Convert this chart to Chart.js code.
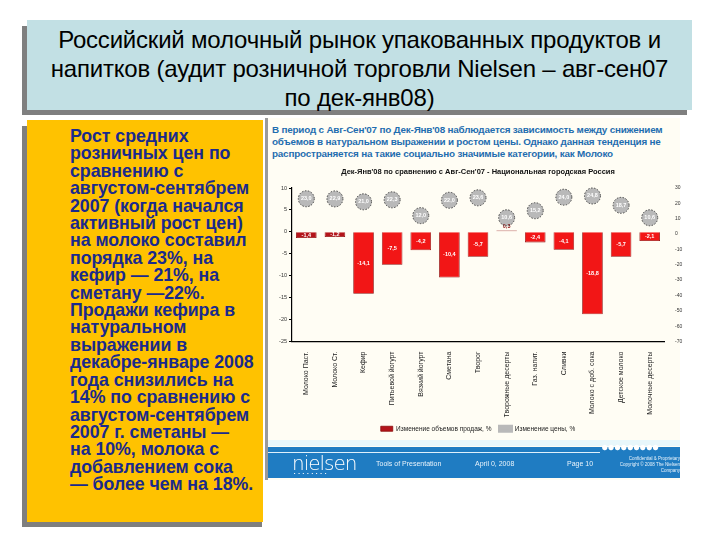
<!DOCTYPE html>
<html><head><meta charset="utf-8">
<script src="https://cdn.jsdelivr.net/npm/chart.js@4.4.1/dist/chart.umd.min.js"></script>
<style>
html,body{margin:0;padding:0;background:#fff;width:720px;height:540px;overflow:hidden;font-family:"Liberation Sans",Arial,sans-serif;}
.abs{position:absolute;}
#tshadow{left:22px;top:26px;width:665px;height:89px;background:#7f7f7f;}
#title{left:27px;top:20px;width:665px;height:90px;background:#c2e0e4;color:#000;font-size:24px;line-height:29px;text-align:center;padding-top:5px;box-sizing:border-box;letter-spacing:-0.2px;}
#lshadow{left:22px;top:126px;width:240px;height:401px;background:#7f7f7f;}
#lbox{left:27px;top:120px;width:236px;height:402px;background:#ffc200;}
#ltext{left:70px;top:128px;width:195px;color:#1a2a8c;font-weight:bold;font-size:17.8px;line-height:17.4px;white-space:pre;letter-spacing:-0.05px;}
#panel{left:266px;top:118px;width:414px;height:362px;background:#fffdf4;}
#pline{left:265px;top:118px;width:3px;height:362px;background:#9a9a9a;}
#ptext{left:272px;top:124px;width:400px;color:#1f6db0;font-weight:bold;font-size:9.9px;line-height:12px;white-space:pre;letter-spacing:-0.2px;}
#strip{left:268px;top:440px;width:412px;height:6px;background:#e8f7fb;}
#footer{left:268px;top:447px;width:412px;height:31px;background:#1f7cc2;}
#fline{left:268px;top:452px;width:332px;height:1px;background:#dff0fb;}
#dots{left:601px;top:440px;color:#fff;font-size:12.5px;letter-spacing:-1.2px;}
.ft{color:#e8f3fb;font-size:7px;}
#logo{left:292px;top:451px;color:#fff;font-size:20px;font-weight:300;letter-spacing:-1px;font-family:"DejaVu Sans",sans-serif;}
#logodots{left:294px;top:471px;color:#fff;font-size:4px;letter-spacing:3px;}
#chartbox{left:268px;top:160px;width:420px;height:282px;}
</style></head>
<body>
<div class="abs" id="tshadow"></div>
<div class="abs" id="title">Российский молочный рынок упакованных продуктов и<br>напитков (аудит розничной торговли Nielsen – авг-сен07<br>по дек-янв08)</div>
<div class="abs" id="lshadow"></div>
<div class="abs" id="lbox"></div>
<div class="abs" id="ltext">Рост средних
розничных цен по
сравнению с
августом-сентябрем
2007 (когда начался
активный рост цен)
на молоко составил
порядка 23%, на
кефир — 21%, на
сметану —22%.
Продажи кефира в
натуральном
выражении в
декабре-январе 2008
года снизились на
14% по сравнению с
августом-сентябрем
2007 г. сметаны —
на 10%, молока с
добавлением сока
— более чем на 18%.</div>
<div class="abs" id="panel"></div>
<div class="abs" id="pline"></div>
<div class="abs" id="ptext">В период с Авг-Сен'07 по Дек-Янв'08 наблюдается зависимость между снижением
объемов в натуральном выражении и ростом цены. Однако данная тенденция не
распространяется на такие социально значимые категории, как Молоко</div>
<div class="abs" id="chartbox"><canvas id="c" width="420" height="282"></canvas></div>
<div class="abs" id="strip"></div>
<div class="abs" id="footer"></div>
<div class="abs" id="fline"></div>
<div class="abs" id="dots">●●●●●●●●●</div>
<div class="abs" id="logo">nielsen</div>
<div class="abs" id="logodots">▪▪▪▪▪▪▪▪</div>
<div class="abs ft" style="left:376px;top:460px;">Tools of Presentation</div>
<div class="abs ft" style="left:475px;top:460px;">April 0, 2008</div>
<div class="abs ft" style="left:567px;top:460px;">Page 10</div>
<div class="abs ft" style="left:600px;top:456px;width:80px;text-align:right;font-size:4.5px;line-height:6px;">Confidential &amp; Proprietary<br>Copyright © 2008 The Nielsen Company</div>
<script>
const categories = ["Молоко Паст.","Молоко Ст.","Кефир","Питьевой йогурт","Вязкий йогурт","Сметана","Творог","Творожные десерты","Газ. напит.","Сливки","Молоко с доб. сока","Детское молоко","Молочные десерты"];
const volumeChange = [-1.4,-1.2,-14.1,-7.5,-4.2,-10.4,-5.7,0.3,-2.4,-4.1,-18.8,-5.7,-2.1];
const priceChange = [23.0,22.9,21.0,22.3,12.0,22.0,23.6,10.6,15.2,24.0,24.8,18.7,10.6];
const volumeAxis = {min:-25,max:10,step:5};
const priceAxis = {min:-70,max:30,step:5};
const chartTitle = "Дек-Янв'08 по сравнению с Авг-Сен'07 - Национальная городская Россия";
const seriesNames = ["Изменение объемов продаж, %","Изменение цены, %"];

const fam = '"Liberation Sans", Arial, sans-serif';
const fmt = v => v.toFixed(1).replace('.', ',');

const labelPlugin = {
  id:'vals',
  afterDatasetsDraw(chart){
    const ctx = chart.ctx;
    ctx.save();
    ctx.textAlign='center'; ctx.textBaseline='middle';
    const bars = chart.getDatasetMeta(0).data;
    bars.forEach((b,i)=>{
      const v = volumeChange[i];
      ctx.font = 'bold 5.5px '+fam;
      if (v > 0) {
        ctx.fillStyle = '#8e1010';
        ctx.fillText(fmt(v), b.x, b.y - 4);
      } else {
        ctx.fillStyle = '#fff';
        ctx.fillText(fmt(v), b.x, (b.y + b.base)/2);
      }
    });
    const pts = chart.getDatasetMeta(1).data;
    pts.forEach((p,i)=>{
      ctx.setLineDash([1.5,1.5]);
      ctx.strokeStyle='#444'; ctx.lineWidth=1;
      ctx.beginPath(); ctx.arc(p.x,p.y,8,0,Math.PI*2); ctx.stroke();
      ctx.setLineDash([]);
      ctx.fillStyle='#fff'; ctx.font='bold 5.5px '+fam;
      ctx.fillText(fmt(priceChange[i]), p.x, p.y);
    });
    ctx.restore();
  }
};

new Chart(document.getElementById('c'), {
  type:'bar',
  data:{
    labels:categories,
    datasets:[
      {type:'bar',label:seriesNames[0],data:volumeChange,yAxisID:'y',
       backgroundColor: c => Math.abs(volumeChange[c.dataIndex])<2 ? '#b4141a' : '#f21616',
       borderColor:'#8a0a0a',borderWidth:0.8,categoryPercentage:0.72,barPercentage:1,order:2},
      {type:'line',label:seriesNames[1],data:priceChange,yAxisID:'y1',showLine:false,
       pointRadius:8,pointHoverRadius:8,pointBackgroundColor:'#b9b9b9',pointBorderWidth:0,
       pointStyle:'circle',backgroundColor:'#b9b9b9',borderColor:'#b9b9b9',order:1}
    ]
  },
  options:{
    responsive:false,animation:false,devicePixelRatio:1,
    layout:{padding:{left:0,right:0,top:0,bottom:0}},
    plugins:{
      title:{display:true,text:chartTitle,color:'#111',font:{family:fam,size:7.5,weight:'bold'},padding:{top:7,bottom:12}},
      legend:{position:'bottom',labels:{color:'#222',font:{family:fam,size:6.5},boxWidth:12,boxHeight:5,padding:8,
        sort:(a,b)=>a.datasetIndex-b.datasetIndex}},
      tooltip:{enabled:false}
    },
    scales:{
      x:{grid:{display:false},border:{display:true,color:'#000',width:1.2},
         ticks:{minRotation:90,maxRotation:90,autoSkip:false,color:'#222',font:{family:fam,size:7},padding:2},
         afterFit:s=>{s.height=76;}},
      y:{position:'left',min:volumeAxis.min,max:volumeAxis.max,
         ticks:{stepSize:volumeAxis.step,color:'#333',font:{family:fam,size:5.5},padding:2},
         grid:{display:true,drawOnChartArea:false,drawTicks:true,tickLength:3,color:'#000'},
         border:{display:true,color:'#000',width:1.2},
         afterFit:s=>{s.width=24;}},
      y1:{position:'right',min:priceAxis.min,max:priceAxis.max,
         ticks:{stepSize:priceAxis.step,color:'#333',font:{family:fam,size:5},padding:3},
         grid:{display:false},border:{display:false},
         afterFit:s=>{s.width=24;}}
    }
  },
  plugins:[labelPlugin]
});
</script>
</body></html>
